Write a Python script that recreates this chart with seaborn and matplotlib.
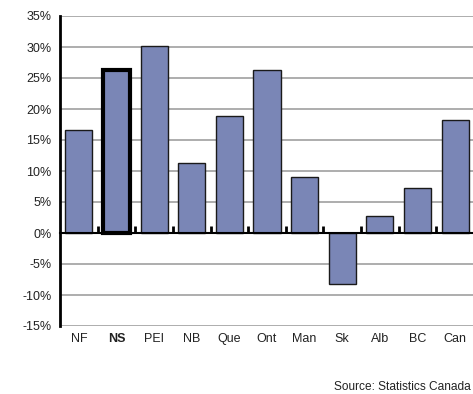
import numpy as np
import pandas as pd
import matplotlib
matplotlib.use("Agg")
import matplotlib.pyplot as plt
import seaborn as sns

provinces = ["NF", "NS", "PEI", "NB", "Que", "Ont", "Man", "Sk", "Alb", "BC", "Can"]
growth = [16.6, 26.3, 30.2, 11.3, 18.9, 26.3, 9.0, -8.2, 2.7, 7.3, 18.2]
highlight = "NS"
y_ticks = [-15, -10, -5, 0, 5, 10, 15, 20, 25, 30, 35]
source_note = "Source: Statistics Canada"

sns.set_style("white")
plt.rcParams["font.family"] = ["Liberation Sans Narrow", "Liberation Sans", "DejaVu Sans"]

df = pd.DataFrame({"province": provinces, "growth": growth})

fig = plt.figure(figsize=(4.73, 3.94), dpi=100)
ax = fig.add_axes([60 / 473, 1 - 326 / 394, 414 / 473, 310 / 394])

sns.barplot(data=df, x="province", y="growth", color="#7a86b6", saturation=1,
            width=0.72, edgecolor="#1a1a1a", linewidth=1.0, ax=ax, zorder=3)

for patch, name in zip(ax.patches, provinces):
    if name == highlight:
        patch.set_edgecolor("black")
        patch.set_linewidth(3)

ymin, ymax = y_ticks[0], y_ticks[-1]
ax.set_ylim(ymin, ymax)
ax.set_xlim(-0.5, len(provinces) - 0.5)
ax.set_yticks(y_ticks)
ax.set_yticklabels([f"{v}%" for v in y_ticks])
ax.yaxis.grid(True, color="#a0a0a0", linewidth=1.2, zorder=0)
ax.set_axisbelow(True)
ax.set_xlabel("")
ax.set_ylabel("")

for side in ["top", "right", "bottom"]:
    ax.spines[side].set_visible(False)
ax.spines["left"].set_color("black")
ax.spines["left"].set_linewidth(2)

ax.tick_params(axis="y", length=0, labelsize=9, pad=6, colors="#222222")
ax.tick_params(axis="x", length=0, labelsize=9, pad=5, colors="#222222")
for lab in ax.get_xticklabels():
    if lab.get_text() == highlight:
        lab.set_fontweight("bold")

# zero line with category divider ticks
zero_loc = (0 - ymin) / (ymax - ymin)
zero_axis = ax.secondary_xaxis(zero_loc)
zero_axis.set_xticks(np.arange(len(provinces) - 1) + 0.5)
zero_axis.tick_params(direction="in", length=5, width=2, color="black", labelbottom=False)
zero_axis.spines["bottom"].set_linewidth(1.5)
zero_axis.spines["bottom"].set_color("black")
zero_axis.set_zorder(4)

fig.text(471 / 473, 1 - 387 / 394, source_note, ha="right", va="center",
         fontsize=8.6, color="#222222")

fig.savefig("out.png", dpi=100)
